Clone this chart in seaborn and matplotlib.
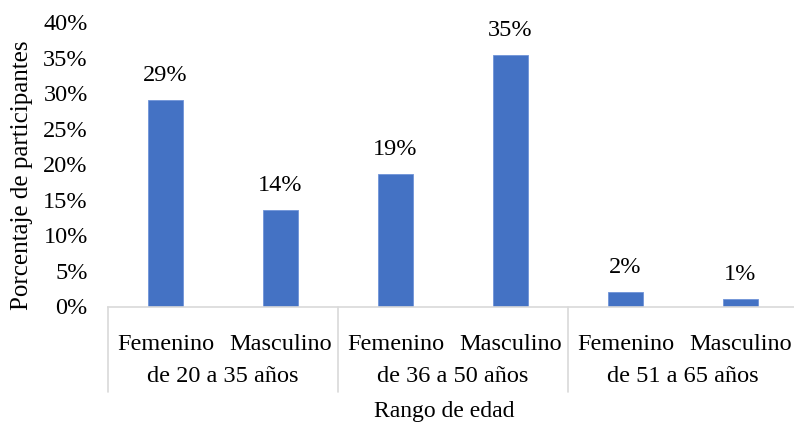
import matplotlib
matplotlib.use("Agg")
import matplotlib.pyplot as plt
import seaborn as sns
import pandas as pd

# Participants by sex within each age range (percent of total)
age_ranges = ["de 20 a 35 años", "de 36 a 50 años", "de 51 a 65 años"]
sexes = ["Femenino", "Masculino"]
percentages = [29.0, 13.5, 18.6, 35.3, 2.0, 1.0]
y_ticks = [0, 5, 10, 15, 20, 25, 30, 35, 40]

rows = []
i = 0
for ar in age_ranges:
    for sx in sexes:
        rows.append({"key": f"{ar}|{sx}", "range": ar, "sex": sx, "pct": percentages[i]})
        i += 1
df = pd.DataFrame(rows)

sns.set_theme(style="white")
plt.rcParams["font.family"] = ["Liberation Serif", "DejaVu Serif"]

W, H = 794, 425
fig = plt.figure(figsize=(W / 100, H / 100), dpi=100)
# plot area in pixels: x 108..798, y 22..306.5
left, right, top, bottom = 108, 798, 22, 306.5
ax = fig.add_axes([left / W, 1 - bottom / H, (right - left) / W, (bottom - top) / H])

FS = 17.5
bar_color = "#4472C4"
sns.barplot(data=df, x="key", y="pct", order=df["key"].tolist(), color=bar_color,
            width=0.31, saturation=1, ax=ax, edgecolor="#6F93D8", linewidth=0.6)

ax.set_xlim(-0.5, len(df) - 0.5)
ax.set_ylim(0, 40)
ax.set_yticks(y_ticks)
ax.set_yticklabels([f"{t}%" for t in y_ticks], fontsize=FS, color="#000000")
ax.tick_params(axis="y", length=0, pad=14.5)
ax.tick_params(axis="x", length=0)
ax.set_xticks([])
ax.set_xlabel("")

for s in ["top", "right", "left"]:
    ax.spines[s].set_visible(False)
ax.spines["bottom"].set_color("#D9D9D9")
ax.spines["bottom"].set_linewidth(1.2)

# value labels above the bars
for xi, v in enumerate(df["pct"]):
    ax.annotate(f"{v:.0f}%", xy=(xi, v), xytext=(0, 18), textcoords="offset points",
                ha="center", va="center", fontsize=FS, color="#000000")

ph = bottom - top
def yfrac(ypx):
    return (bottom - ypx) / ph

trans = ax.get_xaxis_transform()
# sex labels and age-range labels beneath the axis
for xi, sx in enumerate(df["sex"]):
    ax.text(xi, yfrac(344), sx, transform=trans, ha="center", va="center",
            fontsize=FS, color="#000000", clip_on=False)
for gi, ar in enumerate(age_ranges):
    ax.text(gi * 2 + 0.5, yfrac(376), ar, transform=trans, ha="center", va="center",
            fontsize=FS, color="#000000", clip_on=False)
# group separators
for xs in [-0.5, 1.5, 3.5, 5.5]:
    ax.plot([xs, xs], [0, yfrac(392)], transform=trans, color="#D9D9D9",
            linewidth=1.2, clip_on=False)

fig.text(444 / W, 1 - 411 / H, "Rango de edad", ha="center", va="center",
         fontsize=17, color="#000000")

ax.set_ylabel("Porcentaje de participantes", fontsize=18, color="#000000")
ax.yaxis.set_label_coords((22 - left) / (right - left), yfrac(175))
ax.yaxis.label.set_verticalalignment("center")

fig.savefig("out.png", dpi=100)
